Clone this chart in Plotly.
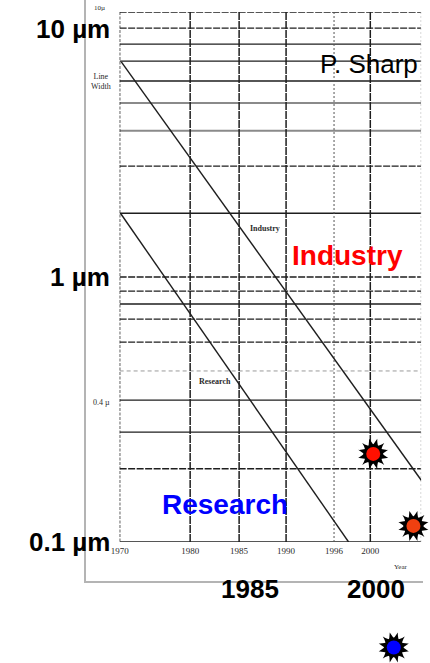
import math
import plotly.graph_objects as go

# --- scanned inner chart (line width vs year) ---
grid_years = [1970.0, 1978.44, 1984.30, 1989.92, 1995.66, 2000.0, 2006.09]
grid_year_labels = ["1970", "1980", "1985", "1990", "1996", "2000", ""]

grid_um = [10, 8.70, 7.57, 6.53, 5.49, 4.54, 3.56, 2.62, 1.74, 1.0,
           0.885, 0.791, 0.694, 0.568, 0.442, 0.343, 0.260, 0.189, 0.1]

industry_year = [1970.2, 2006.1]
industry_um = [6.48, 0.171]

research_year = [1970.1, 1997.4]
research_um = [1.74, 0.1]

star_year = [2000.35, 2005.16, 2002.81]
star_um = [0.215, 0.115, 0.040]

# --- slide overlay axis ---
outer_years = [1985, 2000]
outer_um = [10, 1, 0.1]
outer_um_labels = ["10 µm", "1 µm", "0.1 µm"]

W, H = 430, 663
INK = "#1e1e1e"

# inner plot box in pixels
PL, PR, PT, PB = 113, 421, 12, 542


def px_x(p):
    return p / W


def px_y(p):
    return (H - p) / H


fig = go.Figure()

# horizontal grid lines, grouped by how they look in the scan
h_styles = {
    "solid": dict(color=INK, width=1.3),
    "dash": dict(color=INK, width=1.3, dash="7px,1.5px"),
    "gray": dict(color="#8a8a8a", width=2),
    "faint": dict(color="#9a9a9a", width=1, dash="4px,3px"),
}
h_kind = ["dash", "dash", "solid", "solid", "solid", "gray", "gray", "dash", "solid", "dash",
          "dash", "solid", "dash", "dash", "faint", "solid", "solid", "dash", "solid"]
for kind, st in h_styles.items():
    xs, ys = [], []
    for v, k in zip(grid_um, h_kind):
        if k == kind:
            xs += [grid_years[0], grid_years[-1], None]
            ys += [v, v, None]
    fig.add_trace(go.Scatter(x=xs, y=ys, mode="lines", line=st,
                             hoverinfo="skip", showlegend=False))

# vertical grid lines
v_styles = {
    "solid": dict(color=INK, width=1.5, dash="8px,1px"),
    "dash": dict(color=INK, width=1.4, dash="3px,1.5px"),
    "dot": dict(color="#555555", width=1, dash="2px,2px"),
    "edge": dict(color="#aaaaaa", width=1, dash="2px,2px"),
}
v_kind = ["dash", "solid", "solid", "solid", "dot", "solid", "edge"]
for kind, st in v_styles.items():
    xs, ys = [], []
    for yr, k in zip(grid_years, v_kind):
        if k == kind:
            xs += [yr, yr, None]
            ys += [grid_um[0], grid_um[-1], None]
    fig.add_trace(go.Scatter(x=xs, y=ys, mode="lines", line=st,
                             hoverinfo="skip", showlegend=False))

# trend lines
fig.add_trace(go.Scatter(x=industry_year, y=industry_um, mode="lines",
                         line=dict(color=INK, width=1.4), name="Industry", showlegend=False))
fig.add_trace(go.Scatter(x=research_year, y=research_um, mode="lines",
                         line=dict(color=INK, width=1.4), name="Research", showlegend=False))

# starbursts sit on a full-page copy of the inner scale (one star lies below the box)
for ang in (0, 30, 60):
    fig.add_trace(go.Scatter(x=star_year, y=star_um, mode="markers", cliponaxis=False,
                             xaxis="x3", yaxis="y3",
                             marker=dict(symbol="star-square", size=20, angle=ang,
                                         color="black", line=dict(width=0)),
                             hoverinfo="skip", showlegend=False))
fig.add_trace(go.Scatter(x=star_year, y=star_um, mode="markers", cliponaxis=False,
                         xaxis="x3", yaxis="y3",
                         marker=dict(symbol="circle", size=14,
                                     color=["#ff1000", "#f04010", "#0000ff"],
                                     line=dict(width=0)),
                         hoverinfo="skip", showlegend=False))

# dummy trace so the overlay axes exist
fig.add_trace(go.Scatter(x=[None], y=[None], xaxis="x2", yaxis="y2",
                         hoverinfo="skip", showlegend=False))

serif = dict(family="Liberation Serif, DejaVu Serif, serif", color="#2a2a2a")
big = dict(family="Liberation Sans, Arial, sans-serif", size=26, color="black", weight="bold")

ann = []
for v, lab in zip(outer_um, outer_um_labels):
    ann.append(dict(x=px_x(105), xref="paper", y=math.log10(v), yref="y",
                    text=lab, xanchor="right",
                    yanchor="top" if v == outer_um[0] else "middle",
                    showarrow=False, font=big))
for yr in outer_years:
    ann.append(dict(x=yr, xref="x2", y=px_y(589), yref="paper", text=str(yr),
                    xanchor="center", yanchor="middle", showarrow=False, font=big))

ann += [
    dict(x=px_x(92), y=px_y(8), text="10µ", font=dict(size=7, **serif)),
    dict(x=px_x(94), y=px_y(81), text="Line<br>Width", font=dict(size=8, **serif)),
    dict(x=px_x(94), y=px_y(402), text="0.4 µ", font=dict(size=8, **serif)),
    dict(x=px_x(400), y=px_y(567), text="Year", font=dict(size=7, **serif)),
    dict(x=px_x(261), y=px_y(228), text="<b>Industry</b>", font=dict(size=8, **serif)),
    dict(x=px_x(210), y=px_y(382), text="<b>Research</b>", font=dict(size=8, **serif)),
    dict(x=px_x(368), y=px_y(64), text="P. Sharp",
         font=dict(family="Liberation Sans, Arial, sans-serif", size=26, color="black")),
    dict(x=px_x(346), y=px_y(256), text="Industry",
         font=dict(family="Liberation Sans, Arial, sans-serif", size=28,
                   color="#ff0000", weight="bold")),
    dict(x=px_x(221), y=px_y(504), text="Research",
         font=dict(family="Liberation Sans, Arial, sans-serif", size=28,
                   color="#0000ff", weight="bold")),
]
for a in ann[len(outer_um) + len(outer_years):]:
    a.update(xref="paper", yref="paper", showarrow=False,
             xanchor="center", yanchor="middle")

# full-page axes with the same scale as the inner box
x_per_px = (grid_years[-1] - grid_years[0]) / (PR - PL)
x3_range = [grid_years[0] - PL * x_per_px, grid_years[0] + (W - PL) * x_per_px]
dec_per_px = 2.0 / (PB - PT)
y3_range = [-1 - (H - PB) * dec_per_px, 1 + PT * dec_per_px]

hidden = dict(showgrid=False, zeroline=False, showline=False,
              showticklabels=False, ticks="")

fig.update_layout(
    width=W, height=H,
    margin=dict(l=0, r=0, t=0, b=0),
    paper_bgcolor="white", plot_bgcolor="rgba(0,0,0,0)",
    showlegend=False,
    xaxis=dict(domain=[px_x(PL), px_x(PR)], range=[grid_years[0], grid_years[-1]],
               showgrid=False, zeroline=False, showline=False,
               tickvals=grid_years[:-1], ticktext=grid_year_labels[:-1],
               ticks="", ticklabelstandoff=2,
               tickfont=dict(size=9, **serif)),
    yaxis=dict(type="log", domain=[px_y(PB), px_y(PT)], range=[-1, 1],
               showgrid=False, zeroline=False, showline=False, showticklabels=False),
    xaxis2=dict(domain=[px_x(79), px_x(423)], range=[1965.6, 2005.6], anchor="y2",
                showline=True, linecolor="#b4b4b4", linewidth=2,
                showgrid=False, zeroline=False, showticklabels=False, ticks=""),
    yaxis2=dict(domain=[px_y(581), 1], range=[0, 1], anchor="x2",
                showline=True, linecolor="#b4b4b4", linewidth=2,
                showgrid=False, zeroline=False, showticklabels=False, ticks=""),
    xaxis3=dict(domain=[0, 1], range=x3_range, anchor="y3", **hidden),
    yaxis3=dict(domain=[0, 1], range=y3_range, type="log", anchor="x3", **hidden),
    annotations=ann,
)

# page margins would shift the fixed-size figure
fig.write_html("out.html",
               config={"displayModeBar": False, "responsive": False},
               post_script="document.body.style.margin='0';"
                           "document.documentElement.style.overflow='hidden';"
                           "document.body.style.overflow='hidden';")
